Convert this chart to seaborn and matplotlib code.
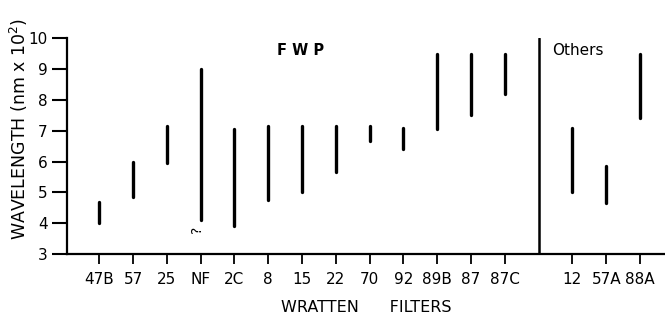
import pandas as pd
import seaborn as sns
import matplotlib.pyplot as plt

# wavelength ranges (nm x 10^2)
fwp_filters = ["47B", "57", "25", "NF", "2C", "8", "15", "22", "70", "92", "89B", "87", "87C"]
fwp_low = [4.0, 4.85, 5.95, 4.1, 3.9, 4.75, 5.0, 5.65, 6.65, 6.4, 7.05, 7.5, 8.2]
fwp_high = [4.7, 6.0, 7.15, 9.0, 7.05, 7.15, 7.15, 7.15, 7.15, 7.1, 9.5, 9.5, 9.5]

other_filters = ["12", "57A", "88A"]
other_low = [5.0, 4.65, 7.4]
other_high = [7.1, 5.85, 9.5]

yticks = [3, 4, 5, 6, 7, 8, 9, 10]


def build_frame():
    rows = []
    labels = fwp_filters + other_filters
    lows = fwp_low + other_low
    highs = fwp_high + other_high
    for i, (name, lo, hi) in enumerate(zip(labels, lows, highs)):
        group = "FWP" if i < len(fwp_filters) else "Others"
        # leave one slot empty between the groups for the divider
        pos = i if group == "FWP" else i + 1
        rows.append({"filter": name, "group": group, "pos": pos, "wavelength": lo})
        rows.append({"filter": name, "group": group, "pos": pos, "wavelength": hi})
    return pd.DataFrame(rows)


def main():
    df = build_frame()

    sns.set_style("ticks")
    plt.rcParams["font.family"] = ["DejaVu Sans"]
    plt.rcParams["text.color"] = "black"
    plt.rcParams["axes.labelcolor"] = "black"
    plt.rcParams["xtick.color"] = "black"
    plt.rcParams["ytick.color"] = "black"
    plt.rcParams["axes.edgecolor"] = "black"

    fig = plt.figure(figsize=(6.65, 3.2), dpi=100)
    ax = fig.add_axes([0.101, 0.206, 0.899, 0.675])

    sns.lineplot(
        data=df, x="pos", y="wavelength", units="filter", estimator=None,
        sort=False, color="black", linewidth=2.4, ax=ax, legend=False
    )

    # divider between groups
    ax.axvline(len(fwp_filters), ymin=0, ymax=1, color="black", lw=1.8)

    ticks = df.drop_duplicates("filter")
    ax.set_xticks(ticks["pos"])
    ax.set_xticklabels(ticks["filter"], fontsize=11)
    ax.set_yticks(yticks)
    ax.set_yticklabels(yticks, fontsize=11)
    ax.set_ylim(3, 10)
    ax.set_xlim(-0.95, 16.74)

    ax.tick_params(axis="y", length=11, width=1.5, pad=3)
    ax.tick_params(axis="x", length=7, width=1.3, pad=6)
    for s in ["top", "right"]:
        ax.spines[s].set_visible(False)
    for s in ["left", "bottom"]:
        ax.spines[s].set_linewidth(1.6)

    ax.set_xlabel("WRATTEN      FILTERS", fontsize=11.5, labelpad=9)
    ax.set_ylabel("WAVELENGTH (nm x 10$^2$)", fontsize=12.5)
    ax.yaxis.set_label_coords(-0.062, 0.58)

    ax.text(5.95, 9.6, "F W P", fontsize=10.5, fontweight="bold", ha="center", va="center")
    ax.text(14.15, 9.6, "Others", fontsize=11, ha="center", va="center")

    nf = df[df["filter"] == "NF"]
    ax.text(nf["pos"].iloc[0] - 0.1, nf["wavelength"].min() - 0.3, "?",
            fontsize=10, rotation=90, ha="center", va="center")

    fig.savefig("out.png", dpi=100)


main()
